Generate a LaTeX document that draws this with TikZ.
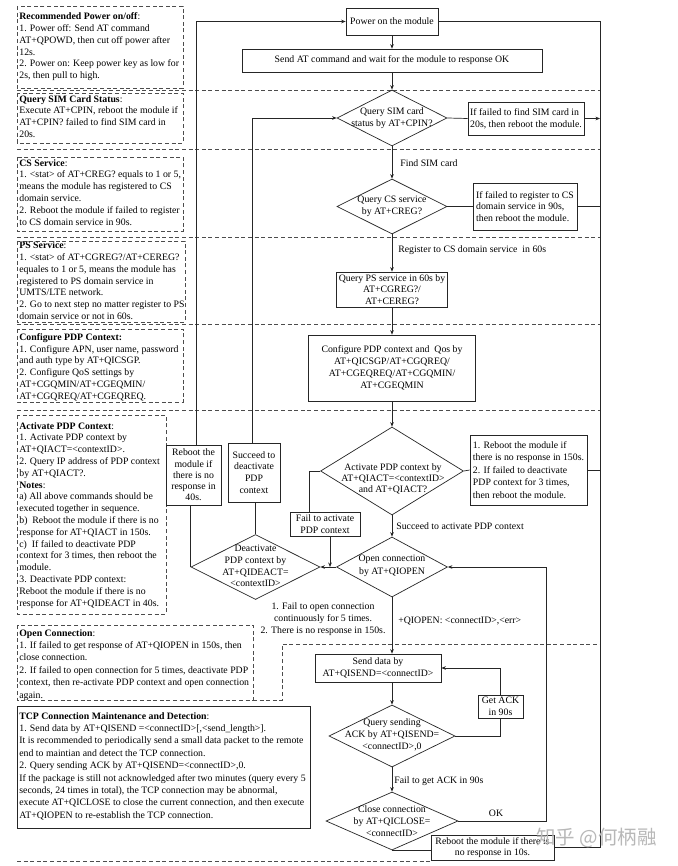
\documentclass[tikz,border=0pt]{standalone}
\usepackage{fontspec}
\setmainfont{Liberation Serif}
\newfontfamily\cjkfont{Noto Sans CJK SC}
\usetikzlibrary{arrows.meta,shapes.geometric}
\begin{document}
\begin{tikzpicture}[x=1pt,y=-1pt, line width=0.7pt, font=\fontsize{9.8}{11.8}\selectfont,
 fbox/.style={draw=black!85, rectangle, inner sep=1pt, align=center},
 dia/.style={draw=black!85, diamond, inner sep=0pt},
 dtext/.style={inner sep=0pt, align=center},
 lbl/.style={inner sep=0pt, anchor=west},
 note/.style={inner sep=0pt, anchor=north west, align=left},
 dline/.style={draw=black!70, line width=0.8pt, dash pattern=on 4pt off 2.6pt},
 arr/.style={-{Stealth[length=4.5pt,width=3.6pt]}},
 conn/.style={draw=black!85}]

\useasboundingbox[fill=white] (0,0) rectangle (677,866);

% ---------- dashed section separators ----------
\draw[dline] (17,90.5) -- (600,90.5);
\draw[dline] (17,149) -- (600,149);
\draw[dline] (17,237) -- (600,237);
\draw[dline] (17,324.5) -- (600,324.5);
\draw[dline] (17,410) -- (600,410);
\draw[dline] (253,700) -- (282,700) -- (282,644) -- (600,644);
\draw[dline] (17,861) -- (431,861);

% ---------- left note boxes ----------
\draw[dline] (17,6) rectangle (183,88);
\node[note] (n1) at (19,12.5) {\textbf{Recommended Power on/off}:\\1. Power off: Send AT command\\AT+QPOWD, then cut off power after\\12s.\\2. Power on: Keep power key as low for\\2s, then pull to high.};

\draw[dline] (17,93) rectangle (183,143);
\node[note] (n2) at (19,95) {\textbf{Query SIM Card Status}:\\Execute AT+CPIN, reboot the module if\\AT+CPIN? failed to find SIM card in\\20s.};

\draw[dline] (17,157) rectangle (183,231);
\node[note] (n3) at (19,159) {\textbf{CS Service}:\\1. <stat> of AT+CREG? equals to 1 or 5,\\means the module has registered to CS\\domain service.\\2. Reboot the module if failed to register\\to CS domain service in 90s.};

\draw[dline] (17,241) rectangle (185,322);
\node[note] (n4) at (19,241.5) {\textbf{PS Service}:\\1. <stat> of AT+CGREG?/AT+CEREG?\\equales to 1 or 5, means the module has\\registered to PS domain service in\\UMTS/LTE network.\\2. Go to next step no matter register to PS\\domain service or not in 60s.};

\draw[dline] (17,329) rectangle (183,402);
\node[note] (n5) at (19,333) {\textbf{Configure PDP Context:}\\1. Configure APN, user name, password\\and auth type by AT+QICSGP.\\2. Configure QoS settings by\\AT+CGQMIN/AT+CGEQMIN/\\AT+CGQREQ/AT+CGEQREQ.};

\draw[dline] (17,415) rectangle (166,614);
\node[note] (n6) at (19,422) {\textbf{Activate PDP Context}:\\1. Activate PDP context by\\AT+QIACT=<contextID>.\\2. Query IP address of PDP context\\by AT+QIACT?.\\\textbf{Notes}:\\a) All above commands should be\\executed together in sequence.\\b)\ \ Reboot the module if there is no\\response for AT+QIACT in 150s.\\c)\ \ If failed to deactivate PDP\\context for 3 times, then reboot the\\module.\\3. Deactivate PDP context:\\Reboot the module if there is no\\response for AT+QIDEACT in 40s.};

\draw[dline] (17,625) rectangle (253,700);
\node[note, font=\fontsize{9.8}{12.4}\selectfont] (n7) at (19,629) {\textbf{Open Connection}:\\1. If failed to get response of AT+QIOPEN in 150s, then\\close connection.\\2. If failed to open connection for 5 times, deactivate PDP\\context, then re-activate PDP context and open connection\\again.};

\draw[draw=black!85] (17,706) rectangle (310,828);
\node[note, font=\fontsize{9.8}{12.4}\selectfont] (n8) at (19,712) {\textbf{TCP Connection Maintenance and Detection}:\\1. Send data by AT+QISEND =<connectID>[,<send\_length>].\\It is recommended to periodically send a small data packet to the remote\\end to maintian and detect the TCP connection.\\2. Query sending ACK by AT+QISEND=<connectID>,0.\\If the package is still not acknowledged after two minutes (query every 5\\seconds, 24 times in total), the TCP connection may be abnormal,\\execute AT+QICLOSE to close the current connection, and then execute\\AT+QIOPEN to re-establish the TCP connection.};

% ---------- main flow ----------
\node[fbox, minimum width=92, minimum height=27] (power) at (392,21.5) {Power on the module};
\node[fbox, minimum width=300, minimum height=23] (sendat) at (392,60.5) {Send AT command and wait for the module to response OK};
\node[dia, minimum width=110, minimum height=56] (sim) at (392,118) {};
\node[dtext] (simT) at (392,118) {Query SIM card\\status by AT+CPIN?};
\node[fbox, minimum width=116, minimum height=33, align=left] (simfail) at (526,118.5) {If failed to find SIM card in\\20s, then reboot the module.};
\node[lbl] (findT) at (400,163) {Find SIM card};
\node[dia, minimum width=110, minimum height=55] (cs) at (392,206.5) {};
\node[dtext] (csT) at (392,206.5) {Query CS service\\by AT+CREG?};
\node[fbox, minimum width=104, minimum height=47, align=left] (csfail) at (525,206.5) {If failed to register to CS\\domain service in 90s,\\then reboot the module.};
\node[lbl] (regT) at (398,250) {Register to CS domain service\ \ in 60s};
\node[fbox, minimum width=111, minimum height=35] (ps) at (392,289.5) {Query PS service in 60s by\\AT+CGREG?/\\AT+CEREG?};
\node[fbox, minimum width=167, minimum height=66] (cfg) at (392,368) {Configure PDP context and\ \ Qos by\\AT+QICSGP/AT+CGQREQ/\\AT+CGEQREQ/AT+CGQMIN/\\AT+CGEQMIN};
\node[dia, minimum width=143, minimum height=88] (act) at (392,471) {};
\node[dtext, font=\fontsize{9.8}{10.8}\selectfont] (actT) at (393,479) {Activate PDP context by\\AT+QIACT=<contextID>\\and AT+QIACT?};
\node[fbox, minimum width=117, minimum height=70, align=left, font=\fontsize{9.8}{12.4}\selectfont] (actfail) at (528.5,470) {1. Reboot the module if\\there is no response in 150s.\\2. If failed to deactivate\\PDP context for 3 times,\\then reboot the module.};
\node[fbox, minimum width=70, minimum height=24] (failact) at (325,524) {Fail to activate\\PDP context};
\node[lbl] (succT) at (396,526) {Succeed to activate PDP context};
\node[dia, minimum width=111, minimum height=60] (open) at (392,567) {};
\node[dtext, font=\fontsize{9.8}{13}\selectfont] (openT) at (392,566) {Open connection\\by AT+QIOPEN};
\node[dia, minimum width=129, minimum height=65] (deact) at (255.5,567) {};
\node[dtext] (deactT) at (255.5,566) {Deactivate\\PDP context by\\AT+QIDEACT=\\<contextID>};
\node[fbox, minimum width=55, minimum height=60, font=\fontsize{9.8}{11.3}\selectfont] (r40) at (193.5,475) {Reboot the\\module if\\there is no\\response in\\40s.};
\node[fbox, minimum width=52, minimum height=59] (succ) at (254,472.5) {Succeed to\\deactivate\\PDP\\context};
\node[dtext] (failopenT) at (323,619) {1. Fail to open connection\\continuously for 5 times.\\2. There is no response in 150s.};
\node[lbl] (qiopenT) at (398,621) {+QIOPEN: <connectID>,<err>};
\node[fbox, minimum width=126, minimum height=28] (sd) at (378,668) {Send data by\\AT+QISEND=<connectID>};
\node[dia, minimum width=126, minimum height=62] (qs) at (392,736) {};
\node[dtext] (qsT) at (392,735) {Query sending\\ACK by AT+QISEND=\\<connectID>,0};
\node[fbox, minimum width=45, minimum height=23] (ack) at (500.5,706.5) {Get ACK\\in 90s};
\node[lbl] (failackT) at (394,781) {Fail to get ACK in 90s};
\node[dia, minimum width=132, minimum height=58] (close) at (392,821) {};
\node[dtext] (closeT) at (392,821) {Close connection\\by AT+QICLOSE=\\<connectID>};
\node[inner sep=0pt] (okT) at (496,813) {OK};
\node[fbox, minimum width=123, minimum height=25] (r10) at (492.5,847.5) {Reboot the module if there is\\no response in 10s.};

% ---------- connectors ----------
\draw[conn,arr] (power.south) -- (sendat.north);
\draw[conn,arr] (sendat.south) -- (sim.north);
\draw[conn] (sim.east) -- (simfail.west);
\draw[conn,arr] (sim.south) -- (cs.north);
\draw[conn] (cs.east) -- (csfail.west);
\draw[conn,arr] (cs.south) -- (ps.north);
\draw[conn,arr] (ps.south) -- (cfg.north);
\draw[conn,arr] (cfg.south) -- (act.north);
\draw[conn] (act.east) -- (actfail.west);
\draw[conn,arr] (act.south) -- (open.north);
\draw[conn] (act.west) -| ([xshift=-16pt]failact.north);
\draw[conn,arr] ([xshift=5pt]failact.south) -- ([xshift=5pt]failact.south |- open.west);
\draw[conn,arr] (open.west) -- (deact.east);
\draw[conn] (deact.north) -- (deact.north |- succ.south);
\draw[conn] (deact.west) -- (deact.west |- r40.south);
\coordinate (L1) at (196,21.5);
\coordinate (L2) at (252,118);
\draw[conn,arr] (r40.north -| L1) -- (L1) -- (power.west);
\draw[conn,arr] (succ.north -| L2) -- (L2) -- (sim.west);
\coordinate (RT) at (600,21.5);
\coordinate (RB) at (600,847.5);
\draw[conn] (power.east) -- (RT) -- (RB) -- (r10.east);
\draw[conn,arr] (simfail.east) -- (simfail.east -| RT);
\draw[conn] (csfail.east) -- (csfail.east -| RT);
\draw[conn] (actfail.east) -- (actfail.east -| RT);
\draw[conn,arr] (open.south) -- (open.south |- sd.north);
\draw[conn,arr] (qs.north |- sd.south) -- (qs.north);
\draw[conn] (qs.east) -| (ack.south);
\draw[conn,arr] (ack.north) |- (sd.east);
\draw[conn,arr] (qs.south) -- (close.north);
\coordinate (R2) at (546,821);
\draw[conn,arr] (close.east) -- (R2) |- (open.east);
\draw[conn] (close.south) -- (close.south -| r10.west);

% ---------- watermark ----------
\node[text=black!28, font=\cjkfont\fontsize{19.5}{20}\selectfont, inner sep=0pt] (wm) at (596.5,838) {知乎 @何柄融};
\end{tikzpicture}
\end{document}
